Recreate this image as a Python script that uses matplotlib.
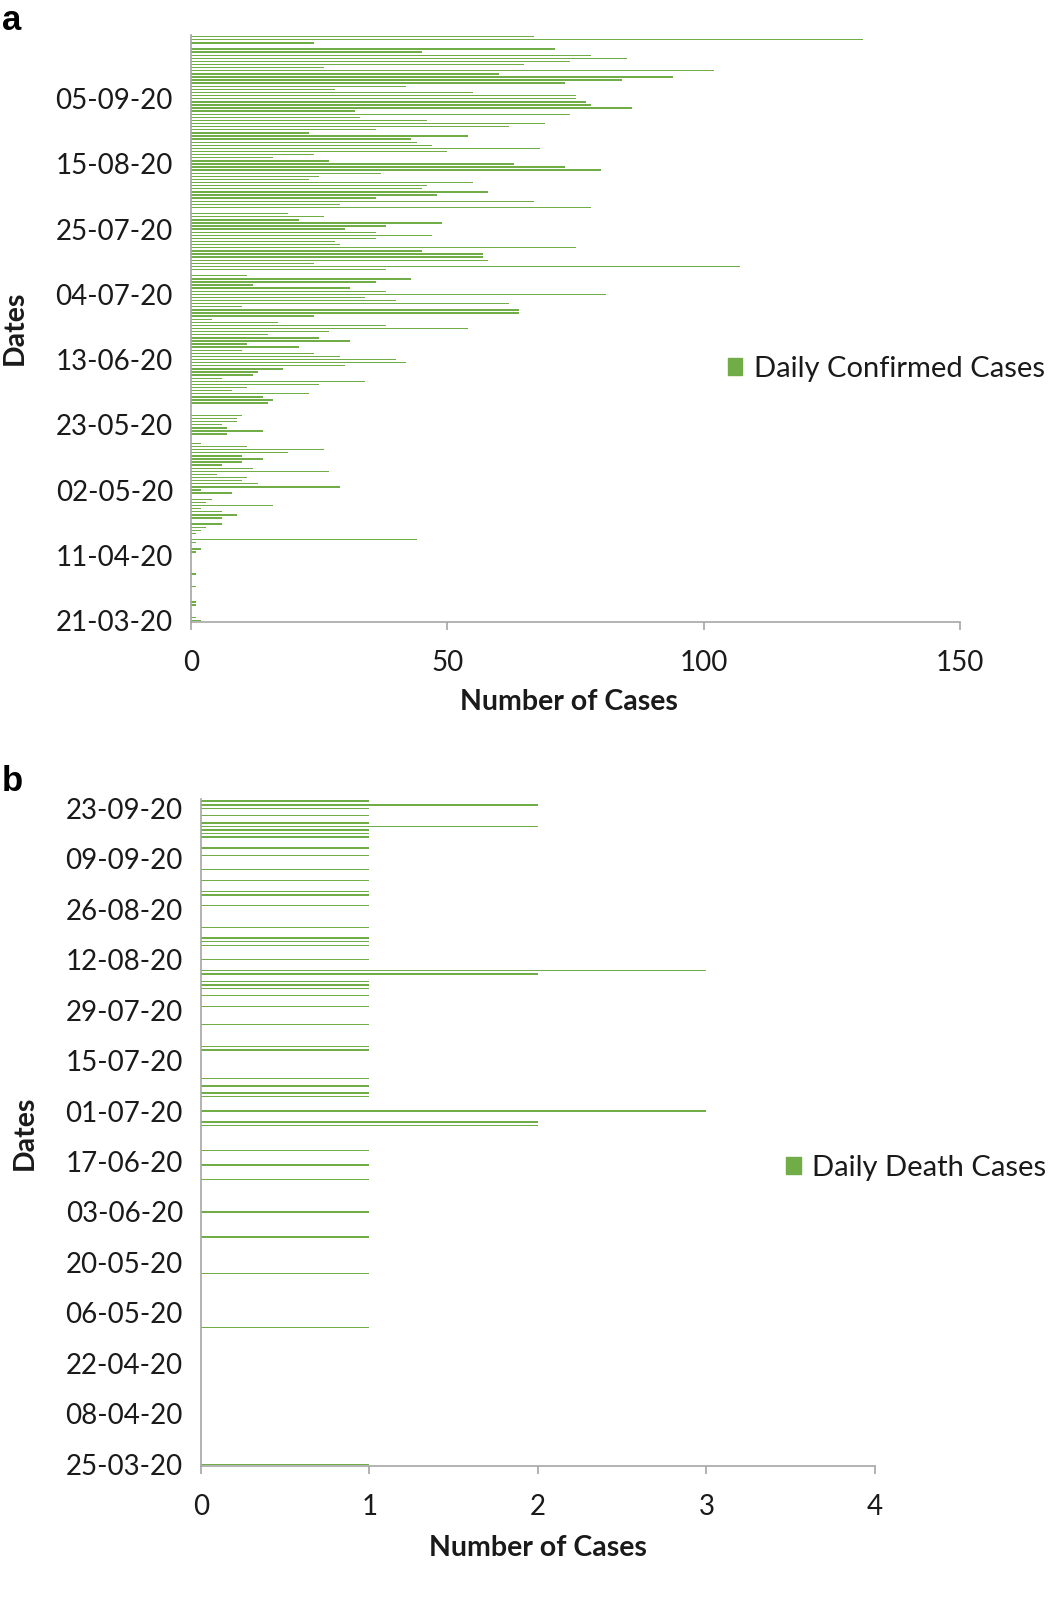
import numpy as np, pandas as pd, matplotlib
matplotlib.use('Agg'); import matplotlib.pyplot as plt
from matplotlib.patches import Patch

plt.rcParams['font.family'] = ['Lato', 'DejaVu Sans']

# daily values, newest day (top bar) first
confirmed_newest_first = [
    67, 131, 24, 0, 71, 45, 78, 85, 74, 65,
    26, 102, 60, 94, 84, 73, 42, 28, 55, 75,
    75, 77, 78, 86, 32, 74, 33, 46, 69, 62,
    36, 23, 54, 43, 44, 47, 68, 50, 24, 16,
    27, 63, 73, 80, 37, 25, 23, 55, 46, 45,
    58, 48, 36, 67, 29, 78, 0, 19, 26, 21,
    49, 38, 30, 36, 47, 36, 28, 29, 75, 45,
    57, 57, 58, 24, 107, 38, 0, 11, 43, 36,
    12, 31, 38, 81, 34, 40, 62, 10, 64, 64,
    24, 4, 17, 38, 54, 27, 15, 25, 31, 11,
    21, 10, 24, 29, 40, 42, 30, 18, 13, 12,
    6, 34, 25, 11, 8, 23, 14, 16, 15, 0,
    0, 0, 10, 9, 9, 6, 7, 14, 7, 0,
    0, 2, 11, 26, 19, 10, 14, 10, 6, 12,
    27, 5, 11, 10, 13, 29, 2, 8, 0, 4,
    3, 16, 2, 6, 9, 6, 0, 6, 3, 2,
    1, 0, 44, 1, 0, 2, 1, 0, 0, 0,
    0, 0, 0, 1, 0, 0, 0, 1, 0, 0,
    0, 0, 1, 1, 0, 0, 0, 1, 2,
]
deaths_newest_first = [
    1, 2, 1, 0, 1, 0, 1, 2, 1, 1,
    1, 0, 0, 1, 0, 1, 0, 0, 0, 1,
    0, 0, 1, 0, 0, 1, 1, 0, 0, 1,
    0, 0, 0, 0, 0, 1, 0, 0, 1, 1,
    1, 0, 0, 0, 1, 0, 0, 3, 2, 0,
    1, 1, 1, 0, 1, 0, 0, 1, 0, 0,
    0, 0, 1, 0, 0, 0, 0, 0, 1, 1,
    0, 0, 0, 0, 0, 0, 0, 1, 0, 1,
    0, 1, 1, 0, 0, 0, 3, 0, 0, 2,
    2, 0, 0, 0, 0, 0, 0, 1, 0, 0,
    0, 1, 0, 0, 0, 1, 0, 0, 0, 0,
    0, 0, 0, 0, 1, 0, 0, 0, 0, 0,
    0, 1, 0, 0, 0, 0, 0, 0, 0, 0,
    0, 1, 0, 0, 0, 0, 0, 0, 0, 0,
    0, 0, 0, 0, 0, 0, 1, 0, 0, 0,
    0, 0, 0, 0, 0, 0, 0, 0, 0, 0,
    0, 0, 0, 0, 0, 0, 0, 0, 0, 0,
    0, 0, 0, 0, 0, 0, 0, 0, 0, 0,
    0, 0, 0, 0, 1,
]
confirmed_start = '2020-03-21'
deaths_start = '2020-03-25'

confirmed = confirmed_newest_first[::-1]
deaths = deaths_newest_first[::-1]
conf_dates = pd.date_range(confirmed_start, periods=len(confirmed), freq='D')
death_dates = pd.date_range(deaths_start, periods=len(deaths), freq='D')

GREEN = '#70AD47'; AXC = '#A6A6A6'; TXT = '#1a1a1a'
FS = 20      # tick labels
LFS = 21     # legend
BFS = 20.5   # bold axis titles

fig = plt.figure(figsize=(10.63, 16.01), dpi=100)
axa = fig.add_axes([0.1797, 0.6115, 0.7234, 0.3666])
axb = fig.add_axes([0.1891, 0.0843, 0.6340, 0.4164])


def draw(ax, vals, dates, step, xmax, xstep, h, label, leg_xy):
    y = np.arange(len(vals))
    ax.barh(y, vals, height=h, color=GREEN)
    ax.set_ylim(-0.5, len(vals) - 0.5)
    ax.set_xlim(0, xmax)
    ax.set_xticks(np.arange(0, xmax + 1, xstep))
    ax.set_yticks(y[::step])
    ax.set_yticklabels([d.strftime('%d-%m-%y') for d in dates[::step]])
    for s in ['top', 'right']:
        ax.spines[s].set_visible(False)
    for s in ['left', 'bottom']:
        ax.spines[s].set_color(AXC); ax.spines[s].set_linewidth(1.2)
    ax.tick_params(axis='y', length=0, pad=13, labelsize=FS, labelcolor=TXT)
    ax.tick_params(axis='x', length=6, width=1.2, color=AXC, pad=14, labelsize=FS, labelcolor=TXT)
    ax.legend(handles=[Patch(color=GREEN, label=label)], loc='center left',
              bbox_to_anchor=leg_xy, frameon=False, fontsize=LFS,
              handlelength=0.5, handleheight=0.5, handletextpad=0.4,
              borderpad=0, borderaxespad=0, labelcolor=TXT)


draw(axa, confirmed, conf_dates, 21, 150, 50, 0.45, 'Daily Confirmed Cases', (0.698, 0.431))
draw(axb, deaths, death_dates, 14, 4, 1, 0.4, 'Daily Death Cases', (0.868, 0.447))

fig.text(0.5355, 0.5615, 'Number of Cases', ha='center', va='center', fontsize=BFS, fontweight='bold', color=TXT)
fig.text(0.506, 0.0331, 'Number of Cases', ha='center', va='center', fontsize=BFS, fontweight='bold', color=TXT)
fig.text(0.0141, 0.795, 'Dates', ha='center', va='center', rotation=90, fontsize=BFS, fontweight='bold', color=TXT)
fig.text(0.0235, 0.2923, 'Dates', ha='center', va='center', rotation=90, fontsize=BFS, fontweight='bold', color=TXT)
fig.text(0.0113, 0.9875, 'a', ha='center', va='center', fontsize=25, fontweight='bold', family='Liberation Sans')
fig.text(0.0113, 0.5116, 'b', ha='center', va='center', fontsize=25, fontweight='bold', family='Liberation Sans')

fig.savefig('out.png', dpi=100)
